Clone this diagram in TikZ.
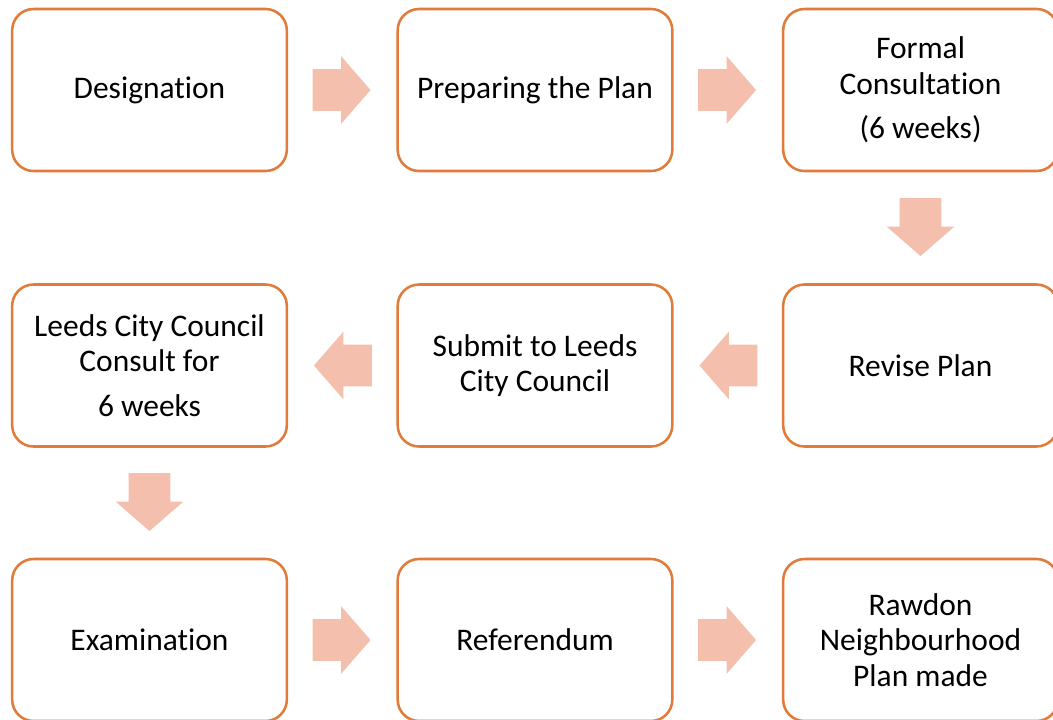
\documentclass[tikz,border=0pt]{standalone}
\usepackage{fontspec}
\setmainfont{Carlito}[Ligatures = NoCommon]
\usetikzlibrary{shapes.arrows,calc}
\definecolor{boxorange}{HTML}{E07B39}
\definecolor{arrowpink}{HTML}{F4BFAD}

\begin{document}
\begin{tikzpicture}[%
        x = 0.75pt,
        y = -0.75pt,
        stage/.style = {%
            draw = boxorange,
            line width = 1.9pt,
            rounded corners = 16pt,
            fill = white,
            minimum width = 206pt,
            minimum height = 121.5pt,
            align = center,
            font = \fontsize{23.6}{26.5}\selectfont
        },
        blockarrow/.style = {%
            single arrow,
            fill = arrowpink,
            draw = none,
            anchor = tail,
            inner xsep = 0pt,
            inner ysep = 15.4pt,
            single arrow head extend = 9.75pt,
            single arrow tip angle = 98,
            minimum height = 43.5pt
        }
    ]
        \clip (0, 0) rectangle (1053, 719);
        \node[stage] (designation) at (149.5, 90) {Designation};
        \node[stage] (preparing) at (535, 90) {Preparing the Plan};
        \node[stage] (formal) at (920.5, 90) {Formal\\Consultation\\[7pt](6 weeks)};
        \node[stage] (revise) at (920.5, 365.5) {Revise Plan};
        \node[stage] (submit) at (535, 365.5) {Submit to Leeds\\City Council};
        \node[stage] (leeds) at (149.5, 365.5) {Leeds City Council\\Consult for\\[7pt]6 weeks};
        \node[stage] (examination) at (149.5, 640) {Examination};
        \node[stage] (referendum) at (535, 640) {Referendum};
        \node[stage] (made) at (920.5, 640) {Rawdon\\Neighbourhood\\Plan made};
        \node[blockarrow] (a1) at ($($(designation.east)!0.5!(preparing.west)$)!-22.5pt!(preparing.west)$) {};
        \node[blockarrow] (a2) at ($($(preparing.east)!0.5!(formal.west)$)!-22.5pt!(formal.west)$) {};
        \node[blockarrow, rotate = -90] (a3) at ($($(formal.south)!0.5!(revise.north)$)!-22.5pt!(revise.north)$) {};
        \node[blockarrow, rotate = 180] (a4) at ($($(revise.west)!0.5!(submit.east)$)!-22.5pt!(submit.east)$) {};
        \node[blockarrow, rotate = 180] (a5) at ($($(submit.west)!0.5!(leeds.east)$)!-22.5pt!(leeds.east)$) {};
        \node[blockarrow, rotate = -90] (a6) at ($($(leeds.south)!0.5!(examination.north)$)!-22.5pt!(examination.north)$) {};
        \node[blockarrow] (a7) at ($($(examination.east)!0.5!(referendum.west)$)!-22.5pt!(referendum.west)$) {};
        \node[blockarrow] (a8) at ($($(referendum.east)!0.5!(made.west)$)!-22.5pt!(made.west)$) {};
    \end{tikzpicture}
\end{document}
